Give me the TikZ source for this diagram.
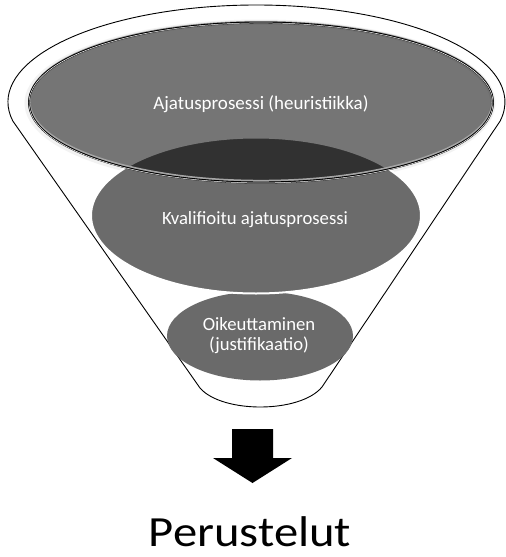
\documentclass[tikz,border=0pt]{standalone}
\usepackage{fontspec}
\setmainfont{Carlito}
\usetikzlibrary{shapes.geometric}
\definecolor{midgray}{HTML}{6B6B6B}
\definecolor{lowgray}{HTML}{6A6A6A}
\tikzset{
  funnel/.style={draw=black, line width=0.9pt, fill=white, line join=round},
  layer/.style={ellipse, inner sep=0pt, outer sep=0pt},
  label/.style={text=white, font=\fontsize{19}{19.5}\selectfont, align=center},
  bigarrow/.style={fill=black, draw=none},
}
\begin{document}
\begin{tikzpicture}[x=1pt, y=-1pt]
\useasboundingbox (0,0) rectangle (506,557);

% funnel outline: upper rim, two sides, rounded spout
\draw[funnel] (12.8,121)
  arc[start angle=191.3, end angle=-11.3, x radius=248.5pt, y radius=97pt]
  -- (322,387) .. controls (300,413.5) and (222,413.5) .. (200,388) -- cycle;

% soft halo around the top disc
\draw[gray!10, line width=5pt] (260,103) ellipse [x radius=233pt, y radius=81pt];

% lowest layer
\node[layer, fill=lowgray, minimum width=186pt, minimum height=89pt] (low) at (260,336) {};
% middle layer with white rim
\node[layer, fill=midgray, draw=white, line width=2pt, minimum width=330pt, minimum height=156pt] (mid) at (256,215.5) {};

% top layer: translucent dark disc with a bevelled rim
\node[layer, fill=black, fill opacity=0.54, minimum width=464pt, minimum height=160pt] (top) at (261,102.5) {};
\draw[gray!70, line width=2pt] (261,101.3) ellipse [x radius=231.5pt, y radius=79.5pt];
\draw[black, line width=1.9pt] (261,102.5) ellipse [x radius=232pt, y radius=80pt];
\draw[white, line width=0.5pt] (261,102.9) ellipse [x radius=232pt, y radius=80pt];

% layer captions
\node[label] (toptext) at (261,104.5) {Ajatusprosessi (heuristiikka)};
\node[label, font=\fontsize{18.7}{19.5}\selectfont] (midtext) at (255,220) {Kvalifioitu ajatusprosessi};
\node[label, font=\fontsize{18.7}{19.5}\selectfont] (lowtext) at (259,335.5) {Oikeuttaminen\\(justifikaatio)};

% outcome arrow and result
\fill[bigarrow] (232,429) -- (273,429) -- (273,458) -- (292,458) -- (252.5,483) -- (213,458) -- (232,458) -- cycle;
\node[anchor=base, xscale=1.13, font=\fontsize{43}{50}\selectfont, inner sep=0pt] (result) at (250,546.5) {Perustelut};
\end{tikzpicture}
\end{document}
